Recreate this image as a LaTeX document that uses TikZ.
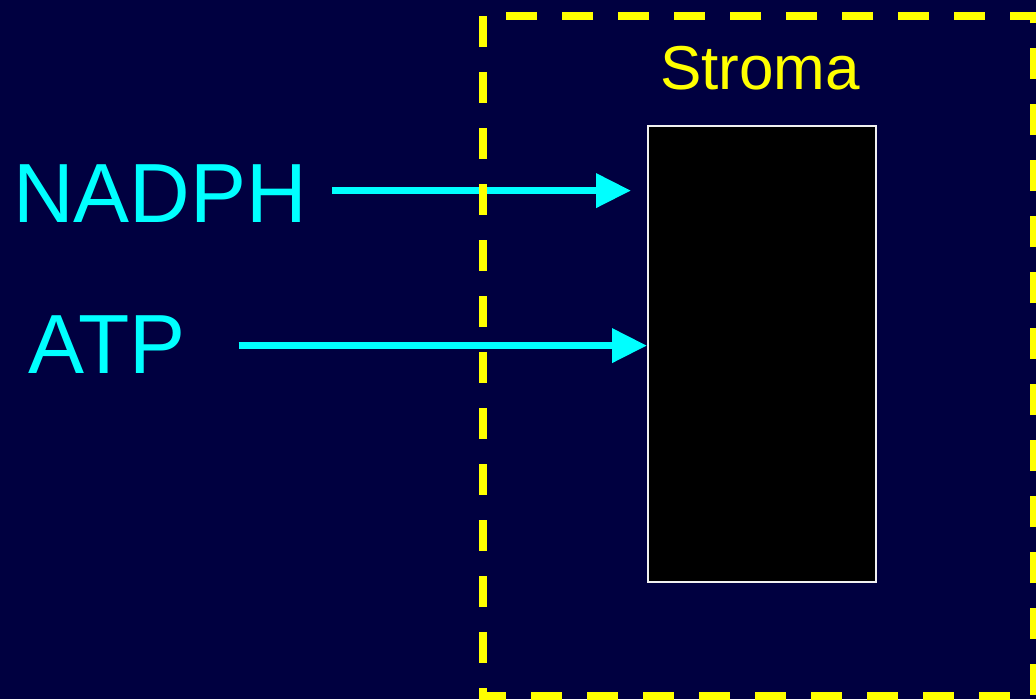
\documentclass[tikz,border=0pt]{standalone}
\usepackage{fontspec}
\setmainfont{Liberation Sans}
\usepackage{xcolor}
\usepackage{tikz}
\usetikzlibrary{arrows.meta, positioning}
\definecolor{navy}{RGB}{0,0,64}
\definecolor{aqua}{RGB}{0,255,255}
\definecolor{lemon}{RGB}{255,255,0}
\tikzstyle{molecule} = [inner sep=0pt, text=aqua, font=\fontsize{84}{84}\selectfont]
\tikzstyle{flow} = [-{Triangle[length=35pt,width=33pt]}, line width=7pt, draw=aqua]

\begin{document}
\begin{tikzpicture}[x=1pt,y=-1pt]

% Background
\fill[navy] (0,0) rectangle (1036,699);
\useasboundingbox (0,0) rectangle (1036,699);

% The box in the stroma
\node (cycle) at (647,125) [anchor=north west, draw=white!88!gray, line width=1.5pt, fill=black, minimum width=228pt, minimum height=456pt] {};
\node (stroma) at (760,89) [anchor=base, inner sep=0pt, text=lemon, font=\fontsize{62}{62}\selectfont] {Stroma};

% Molecules coming in
\node (nadph) at (13,222) [molecule, anchor=base west] {NADPH};
\node (atp) at (28,373) [molecule, anchor=base west] {ATP};
\coordinate (nadphOut) at ([xshift=25pt, yshift=2.5pt]nadph.east);
\coordinate (atpOut) at ([xshift=53pt, yshift=-1.5pt]atp.east);

\draw[flow] (nadphOut) -- ([xshift=-16pt]cycle.west |- nadphOut);
\draw[flow] (atpOut) -- (cycle.west |- atpOut);

% Dashed border of the stroma
\draw[lemon, line width=7.5pt, dash pattern=on 31pt off 25pt] (483,16) rectangle (1034,696);

\end{tikzpicture}
\end{document}
